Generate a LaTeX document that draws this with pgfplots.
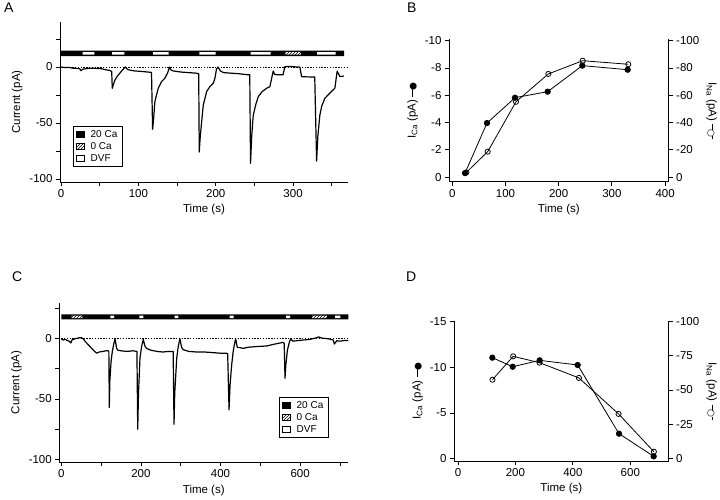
\documentclass[border=0pt]{standalone}
\usepackage{fontspec}
\setmainfont{Liberation Sans}
\newfontfamily\symfont{DejaVu Sans}
\usepackage{pgfplots}
\pgfplotsset{compat=1.18}
\usetikzlibrary{patterns}

\pgfplotsset{
  igor/.style={
    scale only axis,
    axis lines=left,
    axis line style={-, line width=0.8pt},
    tick align=outside,
    major tick length=4pt,
    minor tick length=4pt,
    tick style={line width=0.8pt, black},
    every tick label/.append style={font=\fontsize{11.5}{13}\selectfont},
    label style={font=\fontsize{11.5}{13}\selectfont},
    /pgf/number format/assume math mode=true,
    clip=false,
  },
  stimleg/.style={
    legend style={draw=black, line width=0.8pt, font=\fontsize{10}{11}\selectfont,
      inner xsep=3pt, inner ysep=2pt, row sep=-0.5pt, cells={anchor=west}},
    legend cell align=left,
  },
  trace/.style={black, line width=1.2pt, line join=round, forget plot},
  zero/.style={black, line width=0.8pt, dash pattern=on 1.4pt off 1.4pt, forget plot},
}
\newcommand{\legblack}{\addlegendimage{legend image code/.code={\draw[black,fill=black,line width=0.6pt] (0pt,-2.5pt) rectangle (7.5pt,3pt); \path[draw=none,fill=none] (0pt,0pt) -- (12pt,0pt);}}}
\newcommand{\leghatch}{\addlegendimage{legend image code/.code={\draw[black,fill=white,line width=0.6pt,postaction={pattern=north east lines}] (0pt,-2.5pt) rectangle (7.5pt,3pt); \path[draw=none,fill=none] (0pt,0pt) -- (12pt,0pt);}}}
\newcommand{\legwhite}{\addlegendimage{legend image code/.code={\draw[black,fill=white,line width=0.6pt] (0pt,-2.5pt) rectangle (7.5pt,3pt); \path[draw=none,fill=none] (0pt,0pt) -- (12pt,0pt);}}}

\begin{document}
\begin{tikzpicture}
\useasboundingbox (0pt,0pt) rectangle (720pt,-500pt);

% panel labels
\node[anchor=north west, inner sep=0pt, font=\fontsize{14}{16}\selectfont] at (4pt,-3pt) {A};
\node[anchor=north west, inner sep=0pt, font=\fontsize{14}{16}\selectfont] at (407pt,-3pt) {B};
\node[anchor=north west, inner sep=0pt, font=\fontsize{14}{16}\selectfont] at (12pt,-272pt) {C};
\node[anchor=north west, inner sep=0pt, font=\fontsize{14}{16}\selectfont] at (406pt,-272pt) {D};

% ---------------- Panel A ----------------
\begin{axis}[igor, stimleg, at={(60pt,-182pt)}, anchor=south west,
  width=288pt, height=160pt,
  xmin=-1.3, xmax=371, ymin=-102.7, ymax=40.2,
  xtick={0,100,200,300}, minor xtick={50,150,250,350},
  ytick={-100,-50,0}, minor ytick={-75,-25,25},
  xlabel={Time (s)}, ylabel={Current (pA)},
  legend style={at={(0.045,0.094)}, anchor=south west}]
\addplot[fill=black, draw=none, forget plot] coordinates {(0,9.8) (366,9.8) (366,14.6) (0,14.6) (0,9.8)};
\addplot[fill=white, draw=none, forget plot] coordinates {(28,11) (43,11) (43,13.4) (28,13.4) (28,11)};
\addplot[fill=white, draw=none, forget plot] coordinates {(66,11) (82,11) (82,13.4) (66,13.4) (66,11)};
\addplot[fill=white, draw=none, forget plot] coordinates {(119,11) (139,11) (139,13.4) (119,13.4) (119,11)};
\addplot[fill=white, draw=none, forget plot] coordinates {(179,11) (200,11) (200,13.4) (179,13.4) (179,11)};
\addplot[fill=white, draw=none, forget plot] coordinates {(245,11) (271,11) (271,13.4) (245,13.4) (245,11)};
\addplot[fill=white, draw=none, forget plot, postaction={pattern=north east lines}] coordinates {(290,11) (310,11) (310,13.4) (290,13.4) (290,11)};
\addplot[fill=white, draw=none, forget plot] coordinates {(331,11) (355,11) (355,13.4) (331,13.4) (331,11)};
\addplot[zero] coordinates {(0,0) (371,0)};
\addplot[trace] coordinates {
(0,0) (5,-0.5) (10,-0.3) (15,-1) (20,-1.2) (24,-1.5) (26,-3.3) (28,-2) (32,-1.5)
(38,-1) (45,-1.2) (52,-1.5) (58,-2.5) (63,-3) (65.5,-4) (66.3,-19) (67.5,-16)
(69.7,-11.7) (73,-8) (78.3,-3.6) (83,0) (85,-1.5) (87,-2.5) (95,-3.5) (105,-4)
(112,-4.5) (117,-4.8) (118.4,-55.6) (119.5,-48) (121.4,-30.7) (125.7,-19) (130,-13)
(134.3,-10) (138,-5) (140,0) (142,-2.5) (145,-3.5) (155,-4.5) (165,-5) (175,-5.5)
(178,-6) (178.7,-76) (180,-62) (183.9,-34) (188.2,-22) (193,-17) (196.8,-14.6)
(199,-10) (201,-1.8) (203,0) (206,-3.5) (210,-5) (220,-5.5) (230,-6) (240,-6.8)
(244,-7) (245,-86) (246.5,-62) (248.5,-43) (252,-33) (255,-26.5) (260,-22)
(265.7,-19) (270,-17.6) (274.3,-3.6) (276,-6.5) (280,-7) (287,-7) (289.4,0.3)
(295,0.5) (300,0.3) (305,0) (308.8,0) (311,-8.6) (318,-8.8) (328,-9) (330.4,-84)
(332,-62) (334.6,-43) (337,-35) (341,-28) (348,-23) (354,-19) (357,-3.6)
(360.5,-8.6) (365.6,-8)};
\legblack \addlegendentry{20 Ca}
\leghatch \addlegendentry{0 Ca}
\legwhite \addlegendentry{DVF}
\end{axis}

% ---------------- Panel B ----------------
\begin{axis}[igor, at={(449pt,-181.7pt)}, anchor=south west,
  width=219.7pt, height=142.4pt,
  xmin=-6.2, xmax=406.8, ymin=-0.34, ymax=10.1,
  y filter/.expression={-y},
  xtick={0,100,200,300,400},
  ytick={0,2,4,6,8,10}, yticklabels={0,-2,-4,-6,-8,-10},
  xlabel={Time (s)},
  ylabel={I\textsubscript{Ca} (pA) \raisebox{3pt}{\rule{8pt}{0.7pt}}\hspace{-1.5pt}{\symfont\fontsize{9}{9}\selectfont ●}}]
\addplot[black, line width=0.8pt, mark=*, mark size=2.7pt] coordinates {
(23.9,-0.29) (65.2,-3.96) (117.9,-5.82) (179.3,-6.26) (244.4,-8.17) (329.7,-7.87)};
\end{axis}
\begin{axis}[igor, at={(449pt,-181.7pt)}, anchor=south west,
  width=219.7pt, height=142.4pt,
  xmin=-6.2, xmax=406.8, ymin=-3.4, ymax=101,
  y filter/.expression={-y},
  axis x line=none, axis y line*=right,
  ytick={0,20,40,60,80,100}, yticklabels={0,-20,-40,-60,-80,-100},
  ylabel={I\textsubscript{Na} (pA) \raisebox{3pt}{\rule{6pt}{0.7pt}}\hspace{-1pt}{\symfont\fontsize{9}{9}\selectfont ○}\hspace{-1pt}\raisebox{3pt}{\rule{3pt}{0.7pt}}},
  ylabel style={rotate=180}]
\addplot[black, line width=0.8pt, mark=o, mark size=2.6pt, mark options={fill=white}] coordinates {
(26.4,-3.4) (66.5,-18.6) (119.7,-55.2) (180.5,-75.6) (245.1,-85.3) (330.8,-82.7)};
\end{axis}

% ---------------- Panel C ----------------
\begin{axis}[igor, stimleg, at={(59.3pt,-462.3pt)}, anchor=south west,
  width=289pt, height=159.6pt,
  xmin=-5, xmax=721, ymin=-102.5, ymax=29.9,
  xtick={0,200,400,600}, minor xtick={100,300,500,700},
  ytick={-100,-50,0}, minor ytick={-75,-25,25},
  xlabel={Time (s)}, ylabel={Current (pA)},
  legend style={at={(0.76,0.152)}, anchor=south west}]
\addplot[fill=black, draw=none, forget plot] coordinates {(0,16.1) (721,16.1) (721,20.2) (0,20.2) (0,16.1)};
\addplot[fill=white, draw=none, forget plot, postaction={pattern=north east lines}] coordinates {(26,17.2) (53,17.2) (53,19.1) (26,19.1) (26,17.2)};
\addplot[fill=white, draw=none, forget plot] coordinates {(123,17.2) (133,17.2) (133,19.1) (123,19.1) (123,17.2)};
\addplot[fill=white, draw=none, forget plot] coordinates {(196,17.2) (206,17.2) (206,19.1) (196,19.1) (196,17.2)};
\addplot[fill=white, draw=none, forget plot] coordinates {(285,17.2) (294,17.2) (294,19.1) (285,19.1) (285,17.2)};
\addplot[fill=white, draw=none, forget plot] coordinates {(423,17.2) (433,17.2) (433,19.1) (423,19.1) (423,17.2)};
\addplot[fill=white, draw=none, forget plot] coordinates {(565,17.2) (575,17.2) (575,19.1) (565,19.1) (565,17.2)};
\addplot[fill=white, draw=none, forget plot, postaction={pattern=north east lines}] coordinates {(630,17.2) (667,17.2) (667,19.1) (630,19.1) (630,17.2)};
\addplot[fill=white, draw=none, forget plot] coordinates {(688,17.2) (701,17.2) (701,19.1) (688,19.1) (688,17.2)};
\addplot[zero] coordinates {(0,0) (721,0)};
\addplot[trace] coordinates {
(0,-0.3) (5,-1) (10,-0.5) (15,-1.5) (20,-2) (24,-3.5) (27,-1) (35,0) (45,0.8)
(51,0.8) (55,0) (62,-3) (68,-5) (75,-7.5) (82,-10) (89,-12) (95,-11) (105,-10.5)
(112,-10) (118,-10) (119.5,-11) (120.6,-57) (122,-35) (125,-19) (128,-11) (132,-4)
(135,0) (139,-8) (142,-9.5) (150,-10) (165,-10.5) (180,-10) (190,-10.5) (192,-75)
(194,-45) (197.7,-16) (202,-6) (206,-0.5) (210,-6) (214,-8) (225,-9.5) (240,-10.5)
(255,-11) (270,-10.5) (281,-10.5) (283.2,-71) (285,-45) (290,-16) (294,-6) (298,0)
(302,-7) (306,-9) (320,-10.5) (340,-11) (360,-11) (380,-11.5) (400,-12) (415,-12)
(418,-12.5) (421.4,-59) (424,-38) (428,-21.8) (432,-10) (436,-3) (438,0) (442,-7)
(450,-7.5) (457,-8) (470,-7) (490,-6.5) (516,-6) (535,-4.5) (550,-3.5) (558,-3)
(560,-4) (562,-32.8) (564,-22) (568,-9.6) (572,-4) (576,0) (582,-2) (595,-1.5)
(610,-1) (625,-0.5) (641,0.8) (646,1.5) (655,0.5) (670,0) (680,-0.8) (683,-1)
(686,-4.4) (689,-3) (692,-1.7) (700,-2) (710,-1.5) (721,-1.5)};
\legblack \addlegendentry{20 Ca}
\leghatch \addlegendentry{0 Ca}
\legwhite \addlegendentry{DVF}
\end{axis}

% ---------------- Panel D ----------------
\begin{axis}[igor, at={(454pt,-461pt)}, anchor=south west,
  width=214.7pt, height=139.7pt,
  xmin=-13.9, xmax=733.6, ymin=-0.25, ymax=15,
  y filter/.expression={-y},
  xtick={0,200,400,600},
  ytick={0,5,10,15}, yticklabels={0,-5,-10,-15},
  xlabel={Time (s)},
  ylabel={I\textsubscript{Ca} (pA) \raisebox{3pt}{\rule{8pt}{0.7pt}}\hspace{-1.5pt}{\symfont\fontsize{9}{9}\selectfont ●}}]
\addplot[black, line width=0.8pt, mark=*, mark size=2.7pt] coordinates {
(119.5,-11.03) (190.4,-10.04) (284.4,-10.74) (416.7,-10.23) (560.6,-2.73) (681.3,-0.26)};
\end{axis}
\begin{axis}[igor, at={(454pt,-461pt)}, anchor=south west,
  width=214.7pt, height=139.7pt,
  xmin=-13.9, xmax=733.6, ymin=-1.67, ymax=100,
  y filter/.expression={-y},
  axis x line=none, axis y line*=right,
  ytick={0,25,50,75,100}, yticklabels={0,-25,-50,-75,-100},
  ylabel={I\textsubscript{Na} (pA) \raisebox{3pt}{\rule{6pt}{0.7pt}}\hspace{-1pt}{\symfont\fontsize{9}{9}\selectfont ○}\hspace{-1pt}\raisebox{3pt}{\rule{3pt}{0.7pt}}},
  ylabel style={rotate=180}]
\addplot[black, line width=0.8pt, mark=o, mark size=2.6pt, mark options={fill=white}] coordinates {
(120,-57.5) (192,-74.5) (284,-69.9) (421,-58.8) (559,-32.6) (682,-5.1)};
\end{axis}
\end{tikzpicture}
\end{document}
